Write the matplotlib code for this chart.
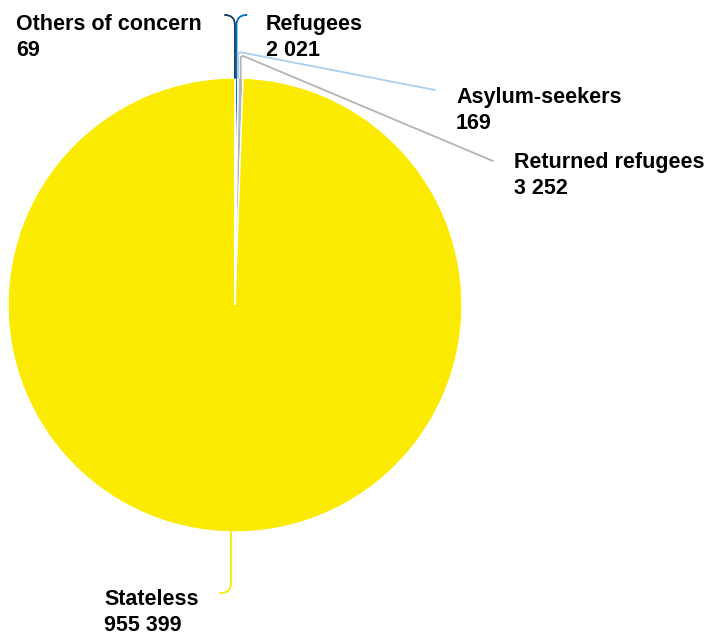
import matplotlib.pyplot as plt
import numpy as np

# Population of concern by category
categories = ["Refugees", "Asylum-seekers", "Returned refugees", "Stateless", "Others of concern"]
values = [2021, 169, 3252, 955399, 69]
colors = ["#0072BC", "#A9CFEE", "#B4B4B4", "#FAEB00", "#18375F"]

plt.rcParams['font.family'] = ['Liberation Sans', 'DejaVu Sans']

W, H = 711, 638
fig = plt.figure(figsize=(W / 100, H / 100), dpi=100)

# pie centre and radius in pixels
cx, cy, r = 235, 305, 227
ax = fig.add_axes([(cx - r) / W, (H - cy - r) / H, 2 * r / W, 2 * r / H])
wedges, _ = ax.pie(values, colors=colors, startangle=90, counterclock=False,
                   wedgeprops=dict(edgecolor="white", linewidth=1.0))
ax.set_xlim(-1, 1)
ax.set_ylim(-1, 1)
ax.axis("off")

# label layout: (label top-left in image pixels, leader end in image pixels, angleA, rad)
layout = {
    "Refugees": ((266, 14), (246, 15), 0, 10),
    "Asylum-seekers": ((456, 87), (435, 90), -11, 4),
    "Returned refugees": ((514, 152), (493, 161), -22.8, 4),
    "Stateless": ((104, 589), (220, 593), 0, 10),
    "Others of concern": ((16, 14), (226, 15), 0, 10),
}

for w, name, val, col in zip(wedges, categories, values, colors):
    (tx, ty), (ex, ey), angA, rad = layout[name]
    mid = np.deg2rad((w.theta1 + w.theta2) / 2)
    edge = (np.cos(mid), np.sin(mid))
    ax.annotate("", xy=edge, xycoords="data",
                xytext=(ex, H - ey), textcoords="figure pixels",
                arrowprops=dict(arrowstyle="-", color=col, lw=1.3,
                                shrinkA=0, shrinkB=0,
                                connectionstyle=f"angle,angleA={angA},angleB=90,rad={rad}"),
                annotation_clip=False)
    label = f"{name}\n{val:,}".replace(",", " ")
    fig.text(tx / W, (H - ty) / H, label, ha="left", va="top",
             fontsize=15.5, fontweight="bold", color="black", linespacing=1.3)

fig.savefig("out.png", dpi=100)
